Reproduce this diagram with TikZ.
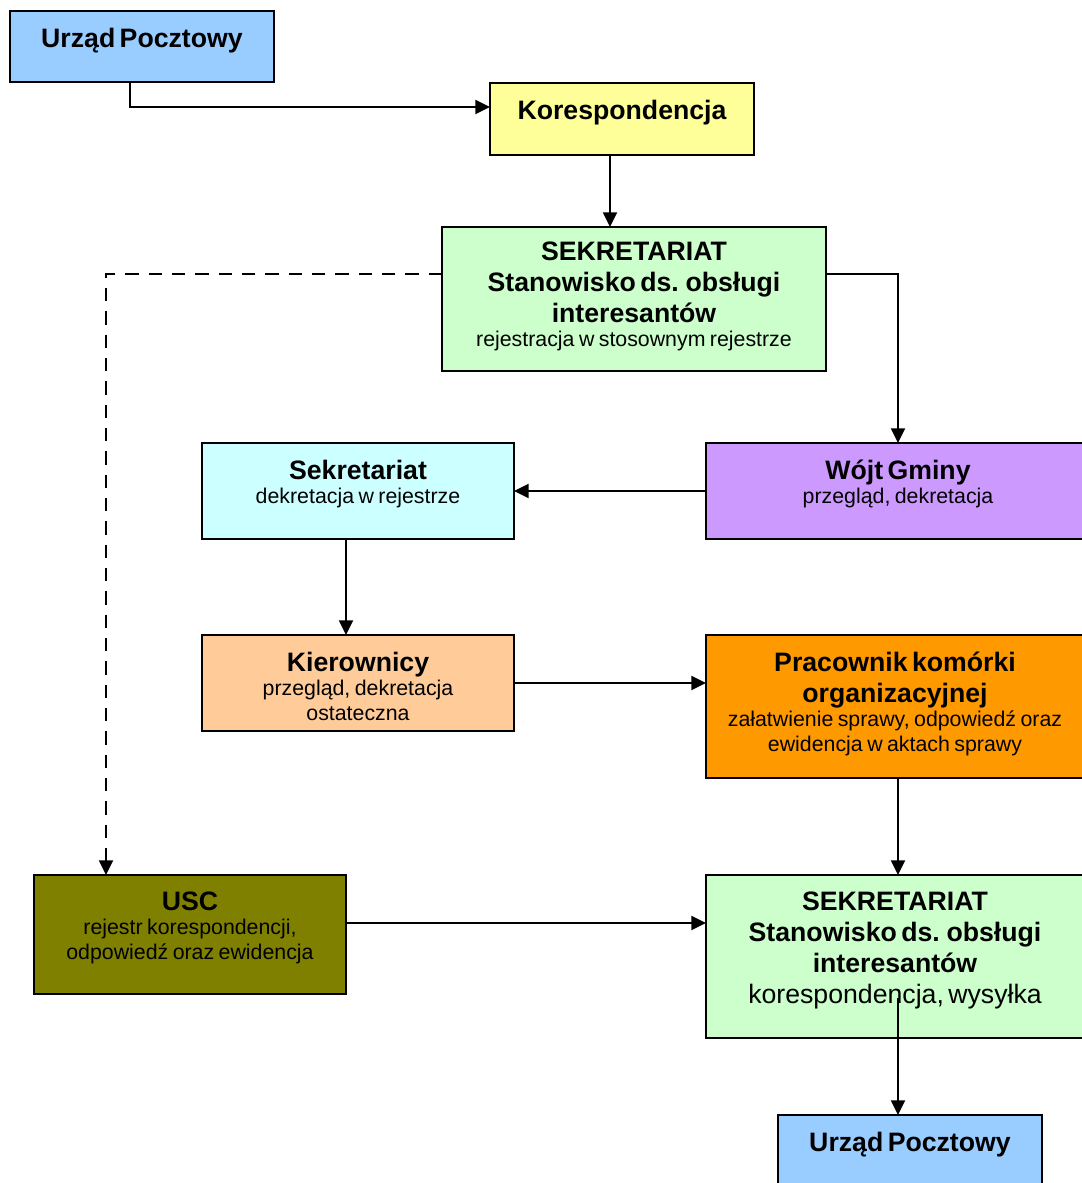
\documentclass[tikz,border=0pt]{standalone}
\usepackage{fontspec}
\setmainfont{Liberation Sans}
\usetikzlibrary{arrows.meta,fit}
\setlength\parindent{0pt}

\definecolor{postblue}{HTML}{99CCFF}
\definecolor{mailyellow}{HTML}{FFFF99}
\definecolor{deskgreen}{HTML}{CCFFCC}
\definecolor{secrcyan}{HTML}{CCFFFF}
\definecolor{mayorlilac}{HTML}{CC99FF}
\definecolor{headpeach}{HTML}{FFCC99}
\definecolor{staffor}{HTML}{FF9900}
\definecolor{uscolive}{HTML}{808000}

\newcommand\boxhead{\fontsize{20}{23.25}\selectfont\bfseries}
\newcommand\boxnote{\fontsize{16}{18.4}\selectfont\mdseries}
\newcommand\boxplain{\fontsize{20}{23.25}\selectfont\mdseries}

\tikzset{
  box/.style={draw=black, line width=1.5pt, inner sep=0pt, outer sep=0pt},
  txt/.style={align=center, text width=330pt, anchor=north, inner sep=0pt},
  conn/.style={line width=1.5pt, -{Triangle[length=11pt,width=10.5pt]}},
  dconn/.style={conn, dash pattern=on 10pt off 7.5pt}
}

\begin{document}
\begin{tikzpicture}[x=0.75pt,y=-0.75pt]
\useasboundingbox (0,0) rectangle (1082,1183);

% boxes
\node[box, fill=postblue,   fit={(10,11)(274,82)}]     (postIn) {};
\node[box, fill=mailyellow, fit={(490,83)(754,155)}]   (kor)    {};
\node[box, fill=deskgreen,  fit={(442,227)(826,371)}]  (sekIn)  {};
\node[box, fill=secrcyan,   fit={(202,443)(514,539)}]  (sekDek) {};
\node[box, fill=mayorlilac, fit={(706,443)(1090,539)}] (wojt)   {};
\node[box, fill=headpeach,  fit={(202,635)(514,731)}]  (kier)   {};
\node[box, fill=staffor,    fit={(706,635)(1090,778)}] (prac)   {};
\node[box, fill=uscolive,   fit={(34,875)(346,994)}]   (usc)    {};
\node[box, fill=deskgreen,  fit={(706,875)(1090,1038)}] (sekOut) {};
\node[box, fill=postblue,   fit={(778,1115)(1042,1200)}] (postOut) {};

% texts (each ends with \par so the last line keeps its own spacing)
\node[txt] (tPostIn) at (142,28) {\boxhead Urząd Pocztowy\par};
\node[txt] (tKor) at (622,99.5) {\boxhead Korespondencja\par};
\node[txt] (tSekIn) at (634,241.5) {\boxhead SEKRETARIAT\\Stanowisko ds. obsługi\\interesantów\par
  \boxnote rejestracja w stosownym rejestrze\par};
\node[txt] (tSekDek) at (358,459.5) {\boxhead Sekretariat\par\boxnote dekretacja w rejestrze\par};
\node[txt] (tWojt) at (898,459.5) {\boxhead Wójt Gminy\par\boxnote przegląd, dekretacja\par};
\node[txt] (tKier) at (358,651.5) {\boxhead Kierownicy\par\boxnote przegląd, dekretacja\\ostateczna\par};
\node[txt] (tPrac) at (895,651.5) {\boxhead Pracownik komórki\\organizacyjnej\par
  \boxnote załatwienie sprawy, odpowiedź oraz\\ewidencja w aktach sprawy\par};
\node[txt] (tUsc) at (190,891.5) {\boxhead USC\par\boxnote rejestr korespondencji,\\odpowiedź oraz ewidencja\par};
\node[txt] (tSekOut) at (895,891.5) {\boxhead SEKRETARIAT\\Stanowisko ds. obsługi\\interesantów\par
  \boxplain korespondencja, wysyłka\par};
\node[txt] (tPostOut) at (910,1131.5) {\boxhead Urząd Pocztowy\par};

% connectors
\draw[conn] ([shift={(-12,0)}]postIn.south) |- ([shift={(0,-12)}]kor.west);
\draw[conn] ([shift={(-12,0)}]kor.south) -- ([shift={(-24,0)}]sekIn.north);
\draw[conn] ([shift={(0,-25)}]sekIn.east) -| (wojt.north);
\draw[dconn] ([shift={(0,-25)}]sekIn.west) -| ([shift={(-84,0)}]usc.north);
\draw[conn] (wojt.west) -- (sekDek.east);
\draw[conn] ([shift={(-12,0)}]sekDek.south) -- ([shift={(-12,0)}]kier.north);
\draw[conn] (kier.east) -- (kier.east -| prac.west);
\draw[conn] (prac.south) -- (sekOut.north);
\draw[conn] ([shift={(0,-11.5)}]usc.east) -- ([shift={(0,-11.5)}]usc.east -| sekOut.west);
\coordinate (outStart) at (898,998);
\draw[conn] (outStart) -- (outStart |- postOut.north);
\end{tikzpicture}
\end{document}
